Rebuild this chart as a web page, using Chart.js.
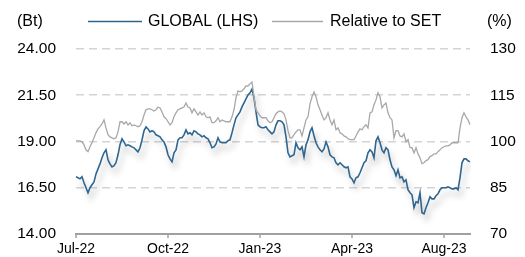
<!DOCTYPE html>
<html>
<head>
<meta charset="utf-8">
<script src="https://cdn.jsdelivr.net/npm/chart.js@4"></script>
<style>
    html, body { margin: 0; padding: 0; background: #fff; overflow: hidden; }
    canvas { display: block; }
</style>
</head>
<body>
<canvas id="chart" width="525" height="257"></canvas>
<script>
// Data (~every 2 trading days)
const tickLabels = ["Jul-22", "Oct-22", "Jan-23", "Apr-23", "Aug-23"];
const tickEvery = 46;

const globalPrice = [
    17.09, 17.04, 16.98, 17.09, 16.77, 16.50, 16.23, 16.50, 16.66, 16.82,
    17.25, 17.52, 17.79, 18.12, 18.39, 18.55, 18.01, 17.79, 17.63, 17.69,
    17.85, 18.28, 18.82, 19.14, 18.98, 18.77, 18.82, 18.77, 18.71, 18.66,
    18.55, 18.44, 18.66, 19.09, 19.58, 19.79, 19.68, 19.52, 19.58, 19.52,
    19.36, 19.31, 19.25, 19.09, 18.98, 18.71, 18.28, 18.06, 17.90, 18.39,
    18.55, 19.09, 19.20, 19.20, 19.36, 19.63, 19.41, 19.47, 19.36, 19.58,
    19.52, 19.41, 19.36, 19.25, 19.31, 19.20, 19.14, 18.93, 18.66, 18.71,
    18.87, 19.20, 18.98, 18.93, 18.93, 18.93, 19.04, 19.09, 19.47, 19.90,
    20.28, 20.44, 20.60, 20.87, 21.09, 21.30, 21.52, 21.63, 21.84, 21.36,
    20.60, 19.90, 19.79, 19.74, 19.74, 19.79, 19.63, 19.52, 19.41, 19.52,
    19.90, 20.12, 20.12, 20.06, 19.90, 19.25, 18.39, 18.17, 18.23, 18.28,
    18.93, 18.66, 18.55, 18.71, 18.17, 18.82, 19.09, 19.52, 19.74, 19.31,
    18.93, 18.71, 18.55, 18.44, 18.60, 18.98, 18.71, 18.28, 18.17, 18.12,
    17.85, 17.74, 17.85, 17.74, 17.63, 17.58, 17.63, 17.09, 16.98, 16.77,
    17.04, 17.09, 17.31, 17.58, 17.85, 17.96, 18.39, 18.55, 18.44, 18.12,
    19.04, 19.25, 18.93, 18.55, 18.39, 18.66, 18.55, 18.01, 17.63, 17.47,
    17.15, 17.47, 17.04, 17.09, 16.82, 16.93, 16.39, 16.23, 16.12, 15.42,
    15.74, 15.69, 16.23, 15.15, 15.09, 15.42, 15.69, 16.01, 15.90, 15.90,
    16.07, 16.17, 16.39, 16.50, 16.50, 16.50, 16.55, 16.50, 16.44, 16.44,
    16.50, 16.39, 17.04, 17.85, 18.06, 18.06, 17.96, 17.90
];

const relativeToSet = [
    100.2, 100.2, 100.2, 99.9, 98.9, 97.3, 96.7, 98.3, 99.6, 101.2,
    102.8, 104.1, 104.8, 105.7, 107.0, 104.4, 102.2, 101.5, 101.2, 100.9,
    101.2, 103.1, 106.4, 106.4, 105.7, 106.4, 105.4, 106.1, 105.1, 105.4,
    105.1, 104.8, 105.1, 106.4, 108.6, 110.3, 110.6, 110.6, 110.3, 109.9,
    110.3, 111.2, 110.9, 109.6, 108.0, 107.4, 106.4, 105.4, 106.1, 108.0,
    109.3, 110.3, 110.6, 110.9, 111.2, 112.5, 111.2, 110.9, 109.3, 110.6,
    109.6, 108.6, 109.6, 108.6, 109.3, 108.0, 107.7, 108.0, 106.1, 106.1,
    106.7, 107.7, 106.4, 107.0, 106.7, 106.4, 106.4, 106.4, 108.0, 110.3,
    114.2, 116.4, 116.1, 116.4, 117.1, 118.0, 118.0, 118.7, 119.3, 114.5,
    110.3, 109.3, 108.3, 107.7, 107.7, 107.7, 106.7, 106.1, 106.4, 107.7,
    109.0, 109.6, 109.9, 109.6, 109.0, 107.0, 103.5, 101.2, 101.2, 102.2,
    103.1, 103.8, 103.8, 101.8, 104.4, 107.0, 108.0, 112.2, 114.5, 116.1,
    114.5, 111.9, 110.3, 108.6, 107.0, 107.7, 109.3, 107.0, 105.4, 107.0,
    103.8, 104.4, 102.8, 102.5, 101.8, 101.5, 100.9, 100.6, 100.6, 100.6,
    101.8, 103.1, 104.1, 103.8, 104.8, 105.4, 104.4, 109.3, 109.6, 111.9,
    113.5, 115.8, 114.5, 110.9, 111.9, 112.5, 109.3, 107.7, 107.0, 101.2,
    103.5, 103.5, 101.8, 101.5, 102.5, 99.9, 100.6, 98.0, 98.0, 96.3,
    98.0, 96.0, 94.7, 92.8, 93.1, 93.8, 94.1, 95.1, 95.4, 96.0,
    96.0, 96.7, 97.3, 98.0, 98.3, 98.6, 98.6, 98.9, 99.6, 99.6,
    99.6, 99.6, 104.4, 107.7, 109.3, 108.0, 107.0, 105.4
];

const leftRange = [14, 24];
const rightRange = [70, 130];

const BLUE = "#2f6690";
const GREY = "#a8a8a8";
const AXIS = "#a0a0a0";
const FONT = "'Liberation Sans', Arial, sans-serif";

const labels = globalPrice.map((_, i) => (i % tickEvery === 0 ? tickLabels[i / tickEvery] : ""));

// soft drop shadow under the blue line
const shadowPlugin = {
    id: "lineShadow",
    beforeDatasetDraw(chart, args) {
        if (args.index !== 0) return;
        const ctx = chart.ctx;
        ctx.save();
        ctx.shadowColor = "rgba(0,0,0,0.28)";
        ctx.shadowBlur = 6;
        ctx.shadowOffsetX = 3;
        ctx.shadowOffsetY = 6;
    },
    afterDatasetDraw(chart, args) {
        if (args.index !== 0) return;
        chart.ctx.restore();
    },
};

// header (unit labels + legend) and the small tick marks under the x axis
const headerPlugin = {
    id: "header",
    afterDraw(chart) {
        const ctx = chart.ctx;
        const y = 21.5;
        ctx.save();
        ctx.font = "16px " + FONT;
        ctx.fillStyle = "#000";
        ctx.textBaseline = "middle";
        ctx.textAlign = "left";
        ctx.fillText("(Bt)", 17, y);
        ctx.fillText("(%)", 487, y);

        ctx.lineWidth = 1.5;
        ctx.strokeStyle = BLUE;
        ctx.beginPath();
        ctx.moveTo(88, y);
        ctx.lineTo(142, y);
        ctx.stroke();
        ctx.fillText("GLOBAL (LHS)", 148, y);

        ctx.strokeStyle = GREY;
        ctx.beginPath();
        ctx.moveTo(272, y);
        ctx.lineTo(323, y);
        ctx.stroke();
        ctx.fillText("Relative to SET", 330, y);

        const xs = chart.scales.x;
        const bottom = chart.chartArea.bottom;
        ctx.strokeStyle = AXIS;
        ctx.lineWidth = 1.5;
        tickLabels.forEach((_, k) => {
            const px = xs.getPixelForValue(k * tickEvery);
            ctx.beginPath();
            ctx.moveTo(px, bottom);
            ctx.lineTo(px, bottom + 4);
            ctx.stroke();
        });
        ctx.restore();
    },
};

// y axes: fixed width, and no extra label padding pushing the plot area around
const fitY = (width) => (s) => {
    s.width = width;
    s.paddingTop = 0;
    s.paddingBottom = 0;
};

new Chart(document.getElementById("chart"), {
    type: "line",
    data: {
        labels: labels,
        datasets: [
            {
                label: "GLOBAL (LHS)",
                data: globalPrice,
                yAxisID: "y",
                borderColor: BLUE,
                borderWidth: 1.6,
                pointRadius: 0,
                tension: 0,
                order: 1,
            },
            {
                label: "Relative to SET",
                data: relativeToSet,
                yAxisID: "y2",
                borderColor: GREY,
                borderWidth: 1.3,
                pointRadius: 0,
                tension: 0,
                order: 0,
            },
        ],
    },
    options: {
        responsive: false,
        animation: false,
        devicePixelRatio: 1,
        layout: { padding: { top: 49, left: 0, right: 0, bottom: 0 } },
        plugins: { legend: { display: false }, tooltip: { enabled: false } },
        scales: {
            x: {
                type: "category",
                offset: false,
                grid: { display: false, drawTicks: false },
                border: { display: true, color: AXIS, width: 2 },
                ticks: {
                    autoSkip: false,
                    maxRotation: 0,
                    padding: 7,
                    color: "#000",
                    font: { family: FONT, size: 14 },
                    callback: (v, i) => (i % tickEvery === 0 ? tickLabels[i / tickEvery] : null),
                },
                afterFit: (s) => {
                    s.height = 23;
                    s.paddingTop = 0;
                    s.paddingBottom = 0;
                },
            },
            y: {
                position: "left",
                min: leftRange[0],
                max: leftRange[1],
                ticks: {
                    stepSize: 2.5,
                    padding: 20,
                    color: "#000",
                    font: { family: FONT, size: 15.5 },
                    callback: (v) => v.toFixed(2),
                },
                grid: {
                    drawTicks: false,
                    lineWidth: 1.6,
                    color: (c) => (c.tick && c.tick.value === leftRange[0] ? "rgba(0,0,0,0)" : "#d4d4d4"),
                },
                border: { display: false, dash: [8, 5] },
                afterFit: fitY(76),
            },
            y2: {
                position: "right",
                min: rightRange[0],
                max: rightRange[1],
                ticks: {
                    stepSize: 15,
                    padding: 20,
                    color: "#000",
                    font: { family: FONT, size: 15.5 },
                },
                grid: { display: false, drawTicks: false },
                border: { display: false },
                afterFit: fitY(55),
            },
        },
    },
    plugins: [shadowPlugin, headerPlugin],
});
</script>
</body>
</html>
